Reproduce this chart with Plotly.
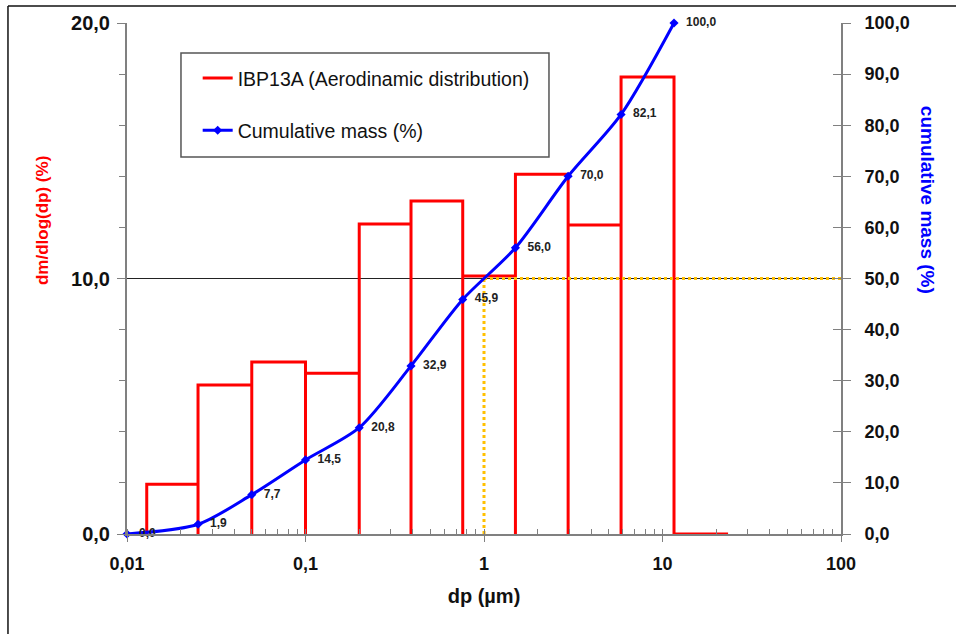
import plotly.graph_objects as go

# ---- data ----
bin_left = [0.0129, 0.025, 0.05, 0.1, 0.2, 0.39, 0.76, 1.5, 2.96, 5.86, 11.6]
bin_right = [0.025, 0.05, 0.1, 0.2, 0.39, 0.76, 1.5, 2.96, 5.86, 11.6, 23.3]
dm_dlogdp = [1.95, 5.83, 6.73, 6.29, 12.13, 13.03, 10.10, 14.08, 12.09, 17.89, 0.0]

cum_dp = [0.01, 0.025, 0.05, 0.1, 0.2, 0.39, 0.76, 1.5, 2.96, 5.86, 11.6]
cum_mass = [0.0, 1.9, 7.7, 14.5, 20.8, 32.9, 45.9, 56.0, 70.0, 82.1, 100.0]

d50_x = 1.0
d50_y = 50.0
x_max = 100.0

x_tickvals = [0.01, 0.1, 1, 10, 100]
x_ticktext = ["0,01", "0,1", "1", "10", "100"]
y1_tickvals = [0, 10, 20]
y2_tickvals = list(range(0, 101, 10))


def fmt(v, d=1):
    return f"{v:.{d}f}".replace(".", ",")


# step outline of the distribution
hx, hy = [], []
for l, r, h in zip(bin_left, bin_right, dm_dlogdp):
    hx += [l, l, r, r]
    hy += [0, h, h, 0]

FONT = "Liberation Sans, Arial, sans-serif"
RED = "#FF0000"
BLUE = "#0000FF"
AX = "#808080"

fig = go.Figure()

fig.add_trace(go.Scatter(
    x=hx, y=hy, mode="lines", name="IBP13A (Aerodinamic distribution)",
    line=dict(color=RED, width=3), legendgroup="a", yaxis="y",
))

fig.add_trace(go.Scatter(
    x=[d50_x, d50_x], y=[0, d50_y], mode="lines", showlegend=False,
    line=dict(color="#FFC000", width=3, dash="dot"), yaxis="y2", hoverinfo="skip",
))
fig.add_trace(go.Scatter(
    x=[d50_x, x_max], y=[d50_y, d50_y], mode="lines", showlegend=False,
    line=dict(color="#FFC000", width=3, dash="dot"), yaxis="y2", hoverinfo="skip",
))

fig.add_trace(go.Scatter(
    x=cum_dp, y=cum_mass, mode="lines+markers+text", name="Cumulative mass (%)",
    line=dict(color=BLUE, width=3, shape="spline", smoothing=0.8),
    marker=dict(symbol="diamond", size=7, color=BLUE),
    text=["\u00a0\u00a0" + fmt(v) for v in cum_mass], textposition="middle right",
    textfont=dict(family=FONT, size=12, color="#222222", weight="bold"),
    cliponaxis=False,
    legendgroup="b", yaxis="y2",
))

tickfont = dict(family=FONT, size=18, color="#111111", weight="bold")

fig.update_layout(
    width=956, height=634,
    margin=dict(l=127, r=115, t=23, b=100),
    paper_bgcolor="white", plot_bgcolor="white",
    font=dict(family=FONT),
    showlegend=True,
    legend=dict(
        x=0.099, y=0.93, xanchor="left", yanchor="top",
        bgcolor="rgba(0,0,0,0)", traceorder="grouped", tracegroupgap=24,
        font=dict(family=FONT, size=19.5, color="#111111"), itemwidth=30,
    ),
    xaxis=dict(
        type="log", range=[-2, 2], tickvals=x_tickvals, ticktext=x_ticktext,
        ticks="outside", ticklen=6, tickcolor=AX, tickwidth=1,
        showline=True, linecolor=AX, linewidth=2, showgrid=False, zeroline=False,
        tickfont=tickfont, ticklabelstandoff=6,
        minor=dict(ticks="inside", ticklen=5, tickcolor=AX, dtick="D1", showgrid=False),
        title=dict(text="dp (µm)", font=dict(family=FONT, size=20, color="#111111", weight="bold"), standoff=16),
    ),
    yaxis=dict(
        range=[0, 20], tickvals=y1_tickvals, ticktext=[fmt(v) for v in y1_tickvals],
        ticks="outside", ticklen=8, tickcolor=AX, tickwidth=1,
        showline=True, linecolor=AX, linewidth=2,
        showgrid=True, gridcolor="#222222", gridwidth=1, zeroline=False,
        tickfont=dict(family=FONT, size=20, color="#111111", weight="bold"),
        ticklabelstandoff=3,
        minor=dict(ticks="outside", ticklen=6, tickcolor=AX, dtick=2, showgrid=False),
    ),
    yaxis2=dict(
        range=[0, 100], tickvals=y2_tickvals, ticktext=[fmt(v) for v in y2_tickvals],
        overlaying="y", side="right", anchor="x",
        ticks="outside", ticklen=8, tickcolor=AX, tickwidth=1,
        showline=True, linecolor=AX, linewidth=2, showgrid=False, zeroline=False,
        tickfont=tickfont, ticklabelstandoff=10,
    ),
    yaxis3=dict(
        range=[0, 100], tickvals=y2_tickvals, overlaying="y", side="right", anchor="x",
        ticks="inside", ticklen=8, tickcolor=AX, tickwidth=1, showticklabels=False,
        showline=False, showgrid=False, zeroline=False,
    ),
    annotations=[
        dict(text="dm/dlog(dp) (%)", x=-0.119, y=0.6125, xref="paper", yref="paper",
             xanchor="center", yanchor="middle",
             textangle=-90, showarrow=False,
             font=dict(family=FONT, size=17, color=RED, weight="bold")),
        dict(text="cumulative mass (%)", x=1.1204, y=0.654, xref="paper", yref="paper",
             xanchor="center", yanchor="middle",
             textangle=90, showarrow=False,
             font=dict(family=FONT, size=19, color=BLUE, weight="bold")),
    ],
    shapes=[
        dict(type="rect", xref="paper", yref="paper", x0=0.0756, x1=0.591, y0=0.7378, y1=0.9413,
             line=dict(color="#555555", width=1.5), fillcolor="rgba(0,0,0,0)"),
        dict(type="line", xref="paper", yref="paper", x0=-0.1667, x1=1.2, y0=1.0333, y1=1.0333,
             line=dict(color="#111111", width=1.5)),
        dict(type="line", xref="paper", yref="paper", x0=-0.1667, x1=-0.1667, y0=-0.3, y1=1.0333,
             line=dict(color="#111111", width=1.5)),
    ],
)

# companion axis giving the right-hand ticks their inner half
fig.add_trace(go.Scatter(x=[None], y=[None], yaxis="y3", showlegend=False, hoverinfo="skip"))

fig.write_html("out.html")
